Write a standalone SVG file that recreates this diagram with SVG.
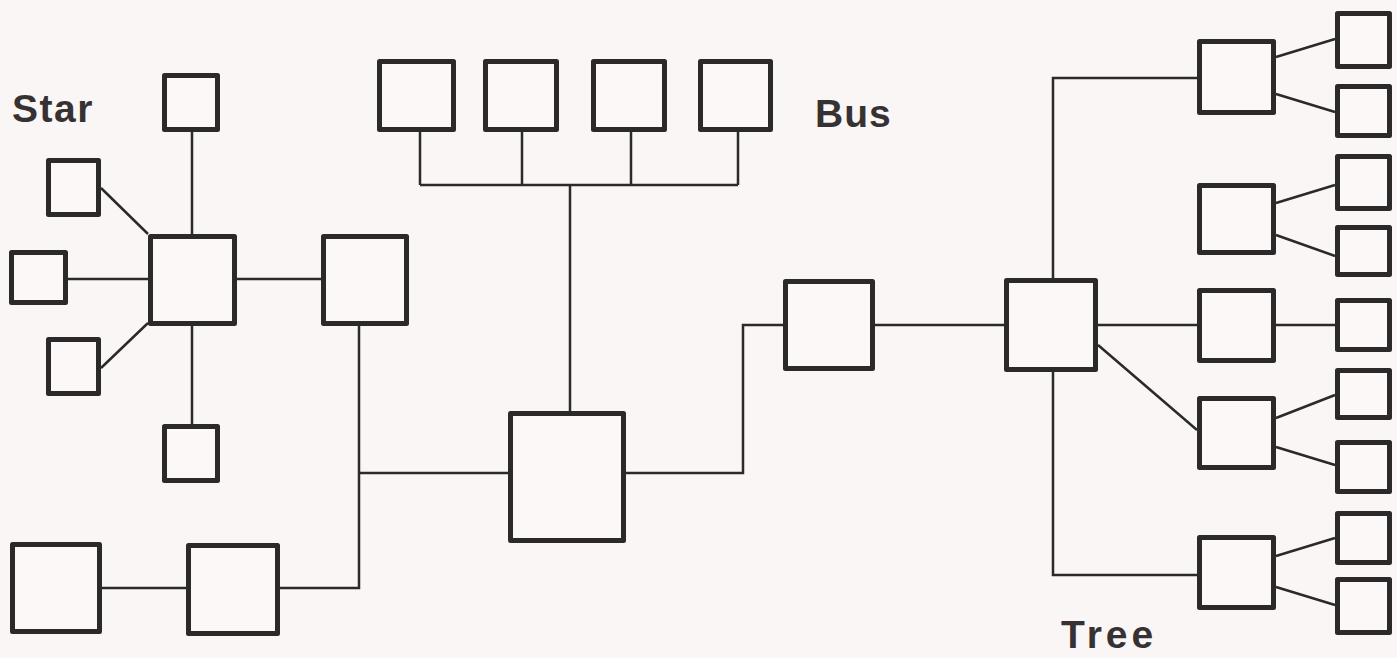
<svg xmlns="http://www.w3.org/2000/svg" width="1397" height="658" viewBox="0 0 1397 658">
  <style>
    .node { fill: #fbf8f7; stroke: #2c292a; stroke-width: 5; stroke-linejoin: round; }
    .wire { fill: none; stroke: #2c292a; stroke-width: 2.5; stroke-linejoin: miter; }
    .label { font-family: "Liberation Sans", Arial, sans-serif; font-weight: bold; font-size: 39px; fill: #363234; }
  </style>
  <rect width="1397" height="658" fill="#faf6f5"/>

  <!-- connectors -->
  <g id="connectors" class="wire">
    <!-- star -->
    <path d="M192 132 V234 M192 326 V424 M68 279 H148 M237 279 H321 M101 188 L148 234 M148 323 L101 368"/>
    <!-- chain and hub links -->
    <path d="M102 588 H186 M280 588 H359 V326 M359 473 H508"/>
    <!-- bus -->
    <path d="M420 132 V185 M522 132 V185 M631 132 V185 M738 132 V185 M420 185 H738 M570 185 V411"/>
    <path d="M626 473 H743 V325 H783 M875 325 H1004"/>
    <!-- tree -->
    <path d="M1053 278 V78 H1197 M1053 372 V575 H1197 M1098 325 H1197 M1098 345 L1197 430 M1276 325 H1335"/>
    <path d="M1276 57 L1335 39 M1276 94 L1335 112 M1276 203 L1335 185 M1276 235 L1335 256 M1276 418 L1335 395 M1276 447 L1335 465 M1276 556 L1335 538 M1276 587 L1335 605"/>
  </g>

  <!-- star -->
  <g id="star-hub"><rect class="node" x="150.5" y="236.5" width="84" height="87"/></g>
  <g id="star-top"><rect class="node" x="164.5" y="75.5" width="53" height="54"/></g>
  <g id="star-upper-left"><rect class="node" x="48.5" y="160.5" width="50" height="54"/></g>
  <g id="star-left"><rect class="node" x="11.5" y="252.5" width="54" height="50"/></g>
  <g id="star-lower-left"><rect class="node" x="48.5" y="339.5" width="50" height="54"/></g>
  <g id="star-bottom"><rect class="node" x="164.5" y="426.5" width="53" height="54"/></g>
  <g id="star-right"><rect class="node" x="323.5" y="236.5" width="83" height="87"/></g>

  <!-- chain -->
  <g id="chain-1"><rect class="node" x="12.5" y="544.5" width="87" height="87"/></g>
  <g id="chain-2"><rect class="node" x="188.5" y="545.5" width="89" height="88"/></g>

  <!-- bus -->
  <g id="bus-1"><rect class="node" x="379.5" y="61.5" width="74" height="68"/></g>
  <g id="bus-2"><rect class="node" x="485.5" y="61.5" width="71" height="68"/></g>
  <g id="bus-3"><rect class="node" x="593.5" y="61.5" width="71" height="68"/></g>
  <g id="bus-4"><rect class="node" x="700.5" y="61.5" width="70" height="68"/></g>

  <!-- central hub and link -->
  <g id="hub"><rect class="node" x="510.5" y="413.5" width="113" height="127"/></g>
  <g id="link"><rect class="node" x="785.5" y="281.5" width="87" height="87"/></g>

  <!-- tree -->
  <g id="tree-root"><rect class="node" x="1006.5" y="280.5" width="89" height="89"/></g>
  <g id="tree-a"><rect class="node" x="1199.5" y="41.5" width="74" height="71"/></g>
  <g id="tree-b"><rect class="node" x="1199.5" y="185.5" width="74" height="67"/></g>
  <g id="tree-c"><rect class="node" x="1199.5" y="290.5" width="74" height="70"/></g>
  <g id="tree-d"><rect class="node" x="1199.5" y="398.5" width="74" height="69"/></g>
  <g id="tree-e"><rect class="node" x="1199.5" y="537.5" width="74" height="70"/></g>
  <g id="leaf-1"><rect class="node" x="1337.5" y="13.5" width="52" height="53"/></g>
  <g id="leaf-2"><rect class="node" x="1337.5" y="86.5" width="52" height="49"/></g>
  <g id="leaf-3"><rect class="node" x="1337.5" y="156.5" width="52" height="52"/></g>
  <g id="leaf-4"><rect class="node" x="1337.5" y="227.5" width="52" height="47"/></g>
  <g id="leaf-5"><rect class="node" x="1337.5" y="300.5" width="52" height="49"/></g>
  <g id="leaf-6"><rect class="node" x="1337.5" y="370.5" width="52" height="47"/></g>
  <g id="leaf-7"><rect class="node" x="1337.5" y="442.5" width="52" height="49"/></g>
  <g id="leaf-8"><rect class="node" x="1337.5" y="513.5" width="52" height="49"/></g>
  <g id="leaf-9"><rect class="node" x="1337.5" y="579.5" width="52" height="53"/></g>

  <!-- labels -->
  <g id="labels">
    <text class="label" x="12" y="122" letter-spacing="1.5">Star</text>
    <text class="label" x="815" y="127" letter-spacing="1">Bus</text>
    <text class="label" x="1061" y="648" letter-spacing="4">Tree</text>
  </g>
</svg>
